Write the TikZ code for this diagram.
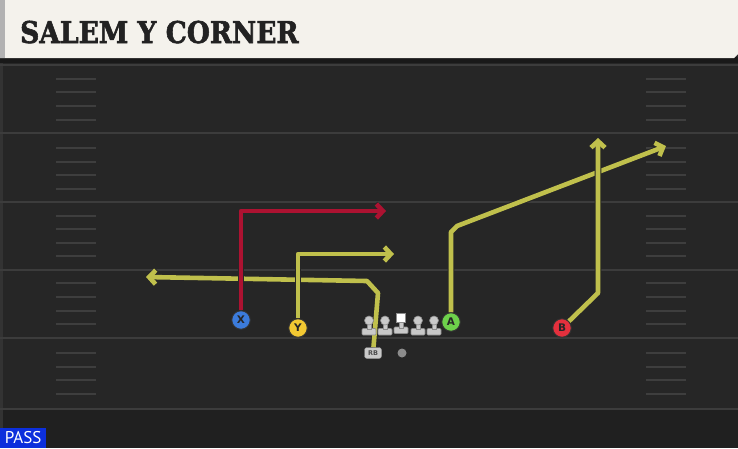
\documentclass[tikz,border=0pt]{standalone}
\usepackage{fontspec}
\newfontfamily\titlefont{DejaVu Serif Bold}[FakeBold=2]
\newfontfamily\markfont{DejaVu Sans}
\newfontfamily\passfont{PT Sans}
\usetikzlibrary{arrows.meta}
\definecolor{fieldbg}{HTML}{262626}
\definecolor{fieldlow}{HTML}{202020}
\definecolor{yardline}{HTML}{3C3C3C}
\definecolor{hashc}{HTML}{3E3E3E}
\definecolor{cream}{HTML}{F4F2EC}
\definecolor{titletext}{HTML}{222222}
\definecolor{routey}{HTML}{C0C04C}
\definecolor{router}{HTML}{AC1231}
\definecolor{pblue}{HTML}{3B7BDB}
\definecolor{pyellow}{HTML}{F2C832}
\definecolor{pgreen}{HTML}{6DD14B}
\definecolor{pred}{HTML}{E4303D}
\definecolor{passblue}{HTML}{0C2FDC}
\definecolor{olgray}{HTML}{C9C9C9}
\definecolor{olgrayd}{HTML}{8C8C8C}
\definecolor{edgestrip}{HTML}{333333}
\pgfdeclarelayer{fieldlayer}
\pgfdeclarelayer{routelayer}
\pgfsetlayers{fieldlayer,routelayer,main}
\tikzset{
  route/.style={draw=routey, line width=4.6pt, line join=round,
    preaction={draw=black!85, line width=6.6pt},
    -{Straight Barb[length=6.5pt,width=14pt]}},
  redroute/.style={route, draw=router},
  player/.style={circle, minimum size=18.5pt, inner sep=0pt, draw=black!80,
    line width=0.9pt, font=\markfont\bfseries\fontsize{10.5}{10.5}\selectfont, text=black!85},
  hashmark/.style={draw=hashc, line width=1.6pt},
  yard/.style={draw=yardline, line width=2pt},
  linemanfill/.style={fill=olgray, draw=olgrayd, line width=0.6pt}
}
\begin{document}
\begin{tikzpicture}[x=1pt,y=-1pt]
\useasboundingbox (0,0) rectangle (738,448);
\begin{pgfonlayer}{fieldlayer}
\fill[fieldbg] (0,0) rectangle (738,448);
\fill[fieldlow] (0,409) rectangle (738,448);
\fill[edgestrip] (0,60) rectangle (2.5,448);
\foreach \yy in {65,133,202,270,338,409} {
  \draw[yard] (0,\yy) -- (738,\yy);
}
\foreach \yy in {79,92,106,120,148,162,175,189,216,229,243,256,283,297,311,324,353,367,380,394} {
  \draw[hashmark] (56,\yy) -- (96,\yy);
  \draw[hashmark] (646,\yy) -- (686,\yy);
}
% title bar
\fill[black!90] (0,57) rectangle (738,63);
\fill[cream] (0,0) -- (738,0) -- (738,54) -- (734,58) -- (0,58) -- cycle;
\fill[black!30] (0,0) rectangle (5,58);
\end{pgfonlayer}
\node[anchor=base west, inner sep=0pt, text=titletext,
  font=\titlefont\fontsize{30}{30}\selectfont] (title) at (20,43)
  {\scalebox{0.885}[1]{SALEM Y CORNER}};

% players
\node[player, fill=pblue] (X) at (241,320) {X};
\node[player, fill=pyellow] (Y) at (298,328) {Y};
\node[player, fill=pgreen] (A) at (451,322) {A};
\node[player, fill=pred] (B) at (562,328) {B};
\node[fill=olgray, draw=olgrayd, rounded corners=2.5pt, minimum width=17pt, minimum height=11pt,
  inner sep=0pt, font=\markfont\bfseries\fontsize{6.5}{6.5}\selectfont, text=black!70] (RB) at (373,353) {RB};
\node[circle, fill=olgrayd, minimum size=9pt, inner sep=0pt] (QB) at (402,353) {};

% offensive line
\foreach \xx in {369,385,418,434} {
  \fill[linemanfill, rounded corners=1pt] (\xx-7,328.5) rectangle (\xx+7,335);
  \fill[linemanfill] (\xx-2.2,323) rectangle (\xx+2.2,329);
  \fill[linemanfill] (\xx,320.5) circle (4.5);
}
\fill[linemanfill, rounded corners=1pt] (394,327) rectangle (408,333.5);
\fill[linemanfill] (398.8,321) rectangle (403.2,328);
\fill[white, draw=olgrayd, line width=0.6pt] (396.5,313.5) rectangle (405.5,322.5);

% route waypoints
\coordinate (x1) at (241,211);
\coordinate (xe) at (386,211);
\coordinate (y1) at (298,254);
\coordinate (ye) at (394,254);
\coordinate (r1) at (378,293);
\coordinate (r2) at (367,281);
\coordinate (re) at (146,277);
\coordinate (a1) at (451,232);
\coordinate (a2) at (457,226);
\coordinate (ae) at (666,146);
\coordinate (b1) at (598,293);
\coordinate (be) at (598,138);

\begin{pgfonlayer}{routelayer}
\draw[route] (RB) -- (r1) -- (r2) -- (re);
\draw[redroute] (X) -- (x1) -- (xe);
\draw[route] (Y) -- (y1) -- (ye);
\draw[route] (A) -- (a1) -- (a2) -- (ae);
\draw[route] (B) -- (b1) -- (be);
\end{pgfonlayer}

\node[anchor=south west, fill=passblue, text=white, inner sep=0pt, minimum width=46pt,
  minimum height=20pt, font=\passfont\fontsize{17}{17}\selectfont] (pass) at (0,448) {PASS};
\end{tikzpicture}
\end{document}
